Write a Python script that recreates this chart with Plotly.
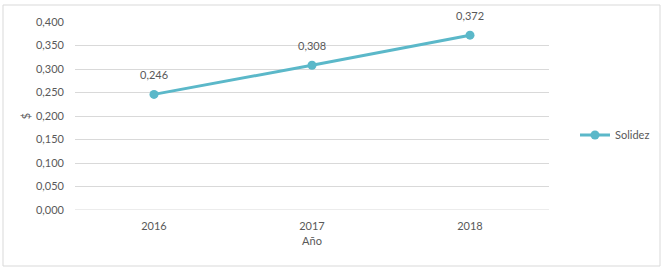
import plotly.graph_objects as go

years = ["2016", "2017", "2018"]
solidez = [0.246, 0.308, 0.372]
labels = ["0,246", "0,308", "0,372"]
ytick_vals = [0.0, 0.05, 0.10, 0.15, 0.20, 0.25, 0.30, 0.35, 0.40]
ytick_text = ["0,000", "0,050", "0,100", "0,150", "0,200", "0,250", "0,300", "0,350", "0,400"]

color = "#5BB8C9"
font_fam = "Lato"
txt_col = "#595959"
W, H = 665, 270
L, R, T, B = 75, 116, 22, 60
pw, ph = W - L - R, H - T - B

def px_x(p):
    return (p - L) / pw

def px_y(p):
    return (H - B - p) / ph

fig = go.Figure()
fig.add_trace(go.Scatter(
    x=years, y=solidez, mode="lines+markers", name="Solidez",
    line=dict(color=color, width=3),
    marker=dict(color=color, size=9),
    hoverinfo="skip",
))
# category axis: annotation x uses the category serial number
for i, (yv, t) in enumerate(zip(solidez, labels)):
    fig.add_annotation(x=i, y=yv, xref="x", yref="y", text=t, showarrow=False, yshift=20,
                       font=dict(size=11, color=txt_col, family=font_fam))

fig.update_layout(
    width=W, height=H,
    margin=dict(l=L, r=R, t=T, b=B, autoexpand=False),
    paper_bgcolor="white", plot_bgcolor="white",
    font=dict(family=font_fam, size=11, color=txt_col),
    showlegend=True,
    legend=dict(x=px_x(575), y=px_y(135), xanchor="left", yanchor="middle",
                font=dict(size=11, color=txt_col), bgcolor="rgba(0,0,0,0)"),
    xaxis=dict(type="category", range=[-0.5, 2.5], showgrid=False, showline=False,
               zeroline=False, automargin=False,
               ticks="", ticklabelstandoff=8, tickfont=dict(size=11, color=txt_col),
               title=dict(text="Año", font=dict(size=11, color=txt_col), standoff=6)),
    yaxis=dict(range=[0, 0.4], tickvals=ytick_vals, ticktext=ytick_text,
               showgrid=True, gridcolor="#D9D9D9", gridwidth=1, zeroline=False,
               showline=False, ticks="", ticklabelstandoff=10, automargin=False,
               tickfont=dict(size=11, color=txt_col),
               title=dict(text="$", font=dict(size=11, color=txt_col), standoff=3)),
    shapes=[dict(type="rect", xref="paper", yref="paper",
                 x0=px_x(3), x1=px_x(660), y0=px_y(266), y1=px_y(5),
                 line=dict(color="#D9D9D9", width=1), fillcolor="rgba(0,0,0,0)", layer="below")],
)
fig.add_shape(type="line", xref="paper", yref="y", x0=0, x1=1, y0=0, y1=0,
              line=dict(color="#D9D9D9", width=1), layer="below")

fig.write_html("out.html", config={"displayModeBar": False},
               post_script="document.body.style.margin='0px';")
